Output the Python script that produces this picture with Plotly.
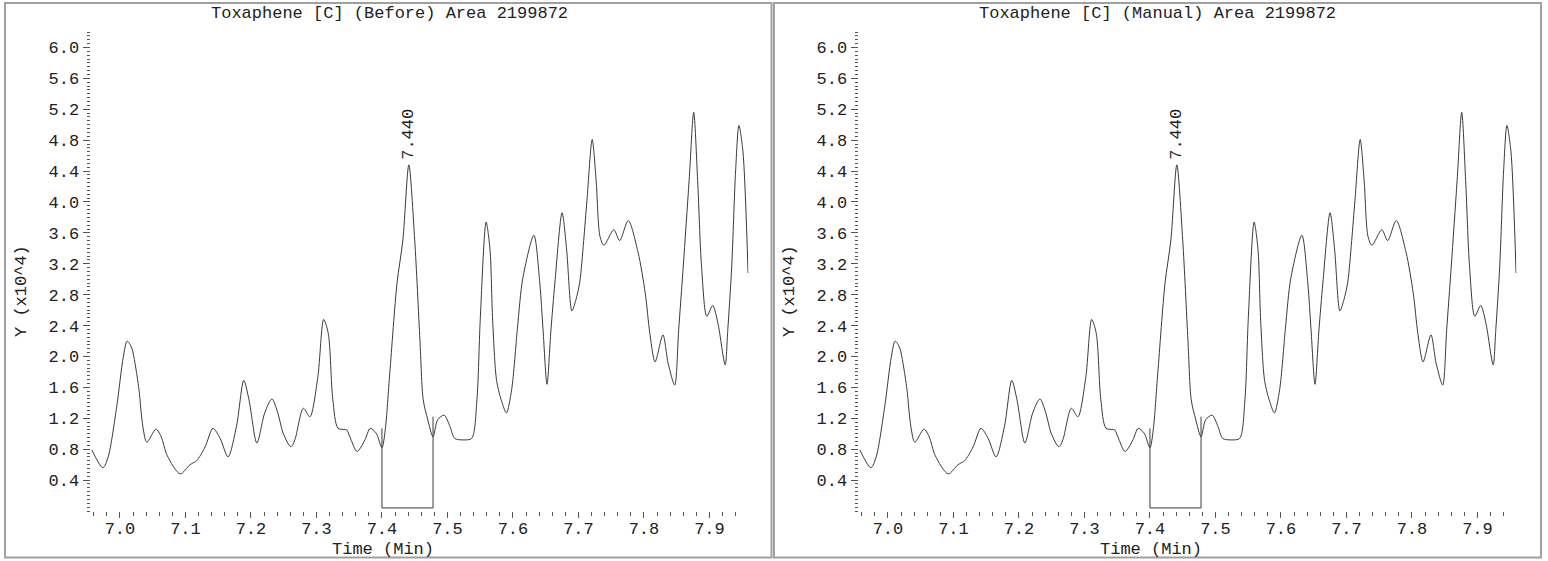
import plotly.graph_objects as go

# ---- data (time in min, signal in x10^4) ----
time_min = [6.957, 6.974, 6.982, 6.995, 7.005, 7.011, 7.018, 7.023, 7.029, 7.035,
            7.041, 7.055, 7.063, 7.072, 7.092, 7.107, 7.117, 7.130, 7.142, 7.153,
            7.165, 7.178, 7.189, 7.197, 7.209, 7.221, 7.232, 7.241, 7.249, 7.261,
            7.267, 7.280, 7.290, 7.302, 7.311, 7.318, 7.325, 7.333, 7.346, 7.351,
            7.362, 7.374, 7.382, 7.391, 7.400, 7.405, 7.412, 7.423, 7.432, 7.441,
            7.450, 7.458, 7.463, 7.470, 7.478, 7.485, 7.495, 7.504, 7.511, 7.524,
            7.537, 7.545, 7.550, 7.559, 7.565, 7.569, 7.575, 7.582, 7.590, 7.598,
            7.607, 7.615, 7.632, 7.641, 7.646, 7.652, 7.658, 7.664, 7.675, 7.682,
            7.690, 7.696, 7.702, 7.708, 7.713, 7.721, 7.727, 7.733, 7.739, 7.754,
            7.763, 7.776, 7.791, 7.802, 7.809, 7.817, 7.829, 7.837, 7.847, 7.853,
            7.860, 7.869, 7.876, 7.882, 7.888, 7.896, 7.905, 7.913, 7.924, 7.928,
            7.934, 7.940, 7.945, 7.951, 7.959]
signal = [0.79, 0.56, 0.70, 1.35, 1.99, 2.20, 2.11, 1.91, 1.57, 1.09,
          0.89, 1.06, 0.96, 0.72, 0.48, 0.60, 0.65, 0.83, 1.07, 0.94,
          0.70, 1.10, 1.69, 1.44, 0.88, 1.27, 1.45, 1.27, 1.01, 0.83,
          0.92, 1.33, 1.22, 1.73, 2.48, 2.30, 1.44, 1.07, 1.05, 0.96,
          0.77, 0.92, 1.07, 1.01, 0.82, 1.05, 1.79, 2.95, 3.51, 4.48,
          3.51, 2.21, 1.44, 1.18, 0.96, 1.18, 1.24, 1.09, 0.94, 0.92,
          0.94, 1.44, 2.47, 3.74, 3.38, 2.47, 1.69, 1.44, 1.27, 1.57,
          2.38, 3.01, 3.57, 2.95, 2.34, 1.64, 2.34, 2.95, 3.86, 3.38,
          2.59, 2.73, 2.96, 3.50, 4.02, 4.81, 4.28, 3.55, 3.44, 3.64,
          3.50, 3.76, 3.35, 2.82, 2.30, 1.93, 2.28, 1.91, 1.63, 2.34,
          3.16, 4.28, 5.16, 4.28, 3.16, 2.52, 2.66, 2.43, 1.89, 2.34,
          3.16, 4.41, 4.99, 4.67, 3.08]

# integration box (baseline marker)
box_x = [7.400, 7.400, 7.478, 7.478]
box_y = [1.07, 0.04, 0.04, 1.22]

peak_rt = 7.441
peak_label = "7.440"
titles = ["Toxaphene [C] (Before) Area 2199872", "Toxaphene [C] (Manual) Area 2199872"]
x_ticks = [7.0, 7.1, 7.2, 7.3, 7.4, 7.5, 7.6, 7.7, 7.8, 7.9]
y_ticks = [0.4, 0.8, 1.2, 1.6, 2.0, 2.4, 2.8, 3.2, 3.6, 4.0, 4.4, 4.8, 5.2, 5.6, 6.0]

W, H = 1548, 561
FONT = "Liberation Mono"
TXT = "#222222"
LINE = "#3a3a3a"
FS = 17

def px(x):
    return x / W

def py(y):
    return 1 - y / H

fig = go.Figure()
panels = [
    dict(xa="x", ya="y", dom=(90.5, 748.4), off=0),
    dict(xa="x2", ya="y2", dom=(858.5, 1516.4), off=768),
]

for i, p in enumerate(panels):
    fig.add_trace(go.Scatter(x=time_min, y=signal, mode="lines",
                             line=dict(color=LINE, width=1, shape="spline", smoothing=0.8),
                             xaxis=p["xa"], yaxis=p["ya"], showlegend=False, hoverinfo="skip"))
    fig.add_trace(go.Scatter(x=box_x, y=box_y, mode="lines",
                             line=dict(color=LINE, width=1),
                             xaxis=p["xa"], yaxis=p["ya"], showlegend=False, hoverinfo="skip"))

axis_common = dict(showgrid=False, zeroline=False, showline=False,
                   ticks="outside", tickcolor="#555555", tickwidth=1,
                   tickfont=dict(family=FONT, size=FS, color=TXT))

layout = dict(width=W, height=H, margin=dict(l=0, r=0, t=0, b=0),
              paper_bgcolor="white", plot_bgcolor="white", showlegend=False)

for i, p in enumerate(panels):
    sfx = "" if i == 0 else "2"
    layout["xaxis" + sfx] = dict(axis_common, domain=[px(p["dom"][0]), px(p["dom"][1])],
                                  range=[6.955, 7.9595], anchor="y" + sfx,
                                  tickvals=x_ticks, ticktext=[f"{v:.1f}" for v in x_ticks],
                                  ticklen=6, ticklabelstandoff=-4,
                                  minor=dict(dtick=0.02, tick0=7.0, ticklen=4, ticks="outside",
                                             tickcolor="#555555", showgrid=False))
    layout["yaxis" + sfx] = dict(axis_common, domain=[py(511), py(32)], range=[0, 6.2],
                                  anchor="x" + sfx,
                                  tickvals=y_ticks, ticktext=[f"{v:.1f}" for v in y_ticks],
                                  ticklen=7,
                                  minor=dict(dtick=0.05, tick0=0, ticklen=3, ticks="outside",
                                             tickcolor="#555555", showgrid=False))
fig.update_layout(**layout)

annotations = []
shapes = []
for i, p in enumerate(panels):
    off = p["off"]
    annotations.append(dict(text=titles[i], x=px(389 + off), y=py(13), xref="paper", yref="paper",
                            showarrow=False, xanchor="center", yanchor="middle",
                            font=dict(family=FONT, size=FS, color=TXT)))
    annotations.append(dict(text="Time (Min)", x=px(383 + off), y=py(549), xref="paper", yref="paper",
                            showarrow=False, xanchor="center", yanchor="middle",
                            font=dict(family=FONT, size=FS, color=TXT)))
    annotations.append(dict(text="Y (x10^4)", x=px(21 + off), y=py(291), xref="paper", yref="paper",
                            showarrow=False, xanchor="center", yanchor="middle", textangle=-90,
                            font=dict(family=FONT, size=FS, color=TXT)))
    sfx = "" if i == 0 else "2"
    annotations.append(dict(text=peak_label, x=peak_rt, y=4.88, xref="x" + sfx, yref="y" + sfx,
                            showarrow=False, xanchor="center", yanchor="middle", textangle=-90,
                            font=dict(family=FONT, size=FS, color=TXT)))

shapes.append(dict(type="rect", xref="paper", yref="paper", x0=px(5), x1=px(771.5),
                   y0=py(557.5), y1=py(3), line=dict(color="#a0a0a0", width=2)))
shapes.append(dict(type="rect", xref="paper", yref="paper", x0=px(774), x1=px(1541),
                   y0=py(557.5), y1=py(3), line=dict(color="#a0a0a0", width=2)))
fig.update_layout(annotations=annotations, shapes=shapes)

fig.write_html("out.html", config={"displayModeBar": False},
               post_script="document.body.style.margin='0';")
